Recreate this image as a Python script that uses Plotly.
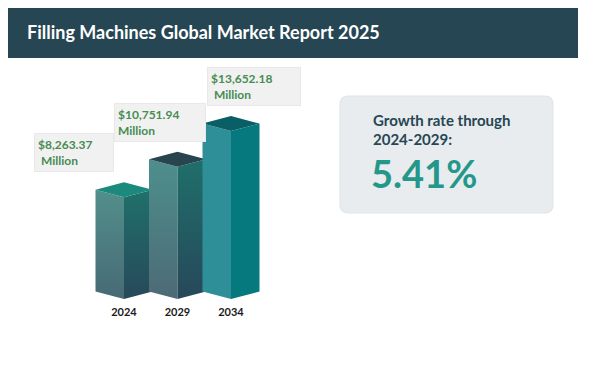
import plotly.graph_objects as go

# ---------------- data ----------------
years = ["2024", "2029", "2034"]
market_values = [8263.37, 10751.94, 13652.18]   # USD million
label_lead = ["\u00a0", "", "\u00a0"]           # indentation of the "Million" line
title_text = "Filling Machines Global Market Report 2025"
growth_caption = ["Growth rate through", "2024-2029:"]
growth_value = "5.41%"

# ---------------- styles ----------------
face_left_top = ["#528f8b", "#4d8f8c", "#2f8f98"]
face_left_bot = ["#476a75", "#4d6a76", "#2f8f98"]
face_right_top = ["#20706c", "#1f6f6b", "#06797f"]
face_right_bot = ["#27495a", "#27485a", "#06797f"]
face_top = ["#1b8a7c", "#28444f", "#0a5e66"]

W, H = 600, 369
OFF = 8                    # page body margin in the screenshot
PLOT_BOTTOM = 299 - OFF    # px: baseline of the bars
FIRST_CAT_PX = 124 - OFF   # px position of first category front edge
CAT_PX = 53.5              # px between categories
PX_PER_UNIT = 0.0123       # px per USD million
HALF_W = 28.5 / CAT_PX     # face width in category units
DEPTH = 7.5 / PX_PER_UNIT  # perspective offset in value units

LABEL_DX = [-90, -63.5, -24]
LABEL_DY = 25
LABEL_W = [80, 92, 94]

fig = go.Figure()

for i, v in enumerate(market_values):
    fig.add_trace(go.Scatter(
        x=[i - HALF_W, i, i, i - HALF_W, i - HALF_W],
        y=[DEPTH, 0, v, v + DEPTH, DEPTH],
        mode="lines", fill="toself", line=dict(width=0),
        fillgradient=dict(type="vertical",
                          colorscale=[[0, face_left_bot[i]], [1, face_left_top[i]]]),
        hoverinfo="skip", showlegend=False))
    fig.add_trace(go.Scatter(
        x=[i, i + HALF_W, i + HALF_W, i, i],
        y=[0, DEPTH, v + DEPTH, v, 0],
        mode="lines", fill="toself", line=dict(width=0),
        fillgradient=dict(type="vertical",
                          colorscale=[[0, face_right_bot[i]], [1, face_right_top[i]]]),
        hoverinfo="skip", showlegend=False))
    fig.add_trace(go.Scatter(
        x=[i - HALF_W, i, i + HALF_W, i, i - HALF_W],
        y=[v + DEPTH, v + 2 * DEPTH, v + DEPTH, v, v + DEPTH],
        mode="lines", fill="toself", line=dict(width=0),
        fillcolor=face_top[i], hoverinfo="skip", showlegend=False))

annotations = []
for i, v in enumerate(market_values):
    annotations.append(dict(
        x=i, y=v, xref="x", yref="y", xanchor="left", yanchor="bottom",
        xshift=LABEL_DX[i], yshift=LABEL_DY,
        text=f"${v:,.2f}<br>{label_lead[i]}Million", align="left",
        showarrow=False, bgcolor="#f1f1f1", bordercolor="#e8e8e8", borderwidth=1,
        borderpad=3, width=LABEL_W[i] - 8,
        font=dict(family="Lato", size=12, color="#478c52", weight="bold")))


def px(xp, yp):
    return (xp - OFF) / W, 1 - (yp - OFF) / PLOT_BOTTOM


def rounded_rect(x0, y0, x1, y1, r):
    def P(a, b):
        u, w = px(a, b)
        return f"{u:.5f},{w:.5f}"
    return (f"M{P(x0 + r, y0)} L{P(x1 - r, y0)} Q{P(x1, y0)} {P(x1, y0 + r)} "
            f"L{P(x1, y1 - r)} Q{P(x1, y1)} {P(x1 - r, y1)} L{P(x0 + r, y1)} "
            f"Q{P(x0, y1)} {P(x0, y1 - r)} L{P(x0, y0 + r)} Q{P(x0, y0)} {P(x0 + r, y0)} Z")


shapes = []
tx0, ty0 = px(6, 6)
tx1, ty1 = px(578, 58)
shapes.append(dict(type="rect", xref="paper", yref="paper", x0=tx0, y0=ty1, x1=tx1, y1=ty0,
                   fillcolor="#264653", line=dict(width=0), layer="below"))
shapes.append(dict(type="path", xref="paper", yref="paper",
                   path=rounded_rect(340, 96, 553, 213, 8),
                   fillcolor="#e8ecee", line=dict(color="#dfe4e7", width=1), layer="below"))

ax, ay = px(25, 32)
annotations.append(dict(x=ax, y=ay, xref="paper", yref="paper", xanchor="left", yanchor="middle",
                        text=title_text, showarrow=False,
                        font=dict(family="Lato", size=18, color="white", weight="bold")))
for txt, yp in zip(growth_caption, [120, 139]):
    gx, gy = px(371, yp)
    annotations.append(dict(x=gx, y=gy, xref="paper", yref="paper", xanchor="left", yanchor="middle",
                            text=txt, showarrow=False,
                            font=dict(family="Lato", size=15, color="#264653", weight="bold")))
gx, gy = px(369, 173)
annotations.append(dict(x=gx, y=gy, xref="paper", yref="paper", xanchor="left", yanchor="middle",
                        text=growth_value, showarrow=False,
                        font=dict(family="Lato", size=38, color="#23988a", weight="bold")))

fig.update_layout(
    width=W, height=H, margin=dict(l=0, r=0, t=0, b=H - PLOT_BOTTOM),
    paper_bgcolor="white", plot_bgcolor="rgba(0,0,0,0)",
    xaxis=dict(range=[-FIRST_CAT_PX / CAT_PX, (W - FIRST_CAT_PX) / CAT_PX],
               tickvals=list(range(len(years))), ticktext=years, ticks="",
               ticklabelstandoff=5,
               showgrid=False, zeroline=False, showline=False, fixedrange=True,
               tickfont=dict(family="Lato", size=11, color="#1a1a1a", weight="bold")),
    yaxis=dict(range=[0, PLOT_BOTTOM / PX_PER_UNIT], visible=False, fixedrange=True),
    shapes=shapes, annotations=annotations,
)

fig.write_html("out.html")
